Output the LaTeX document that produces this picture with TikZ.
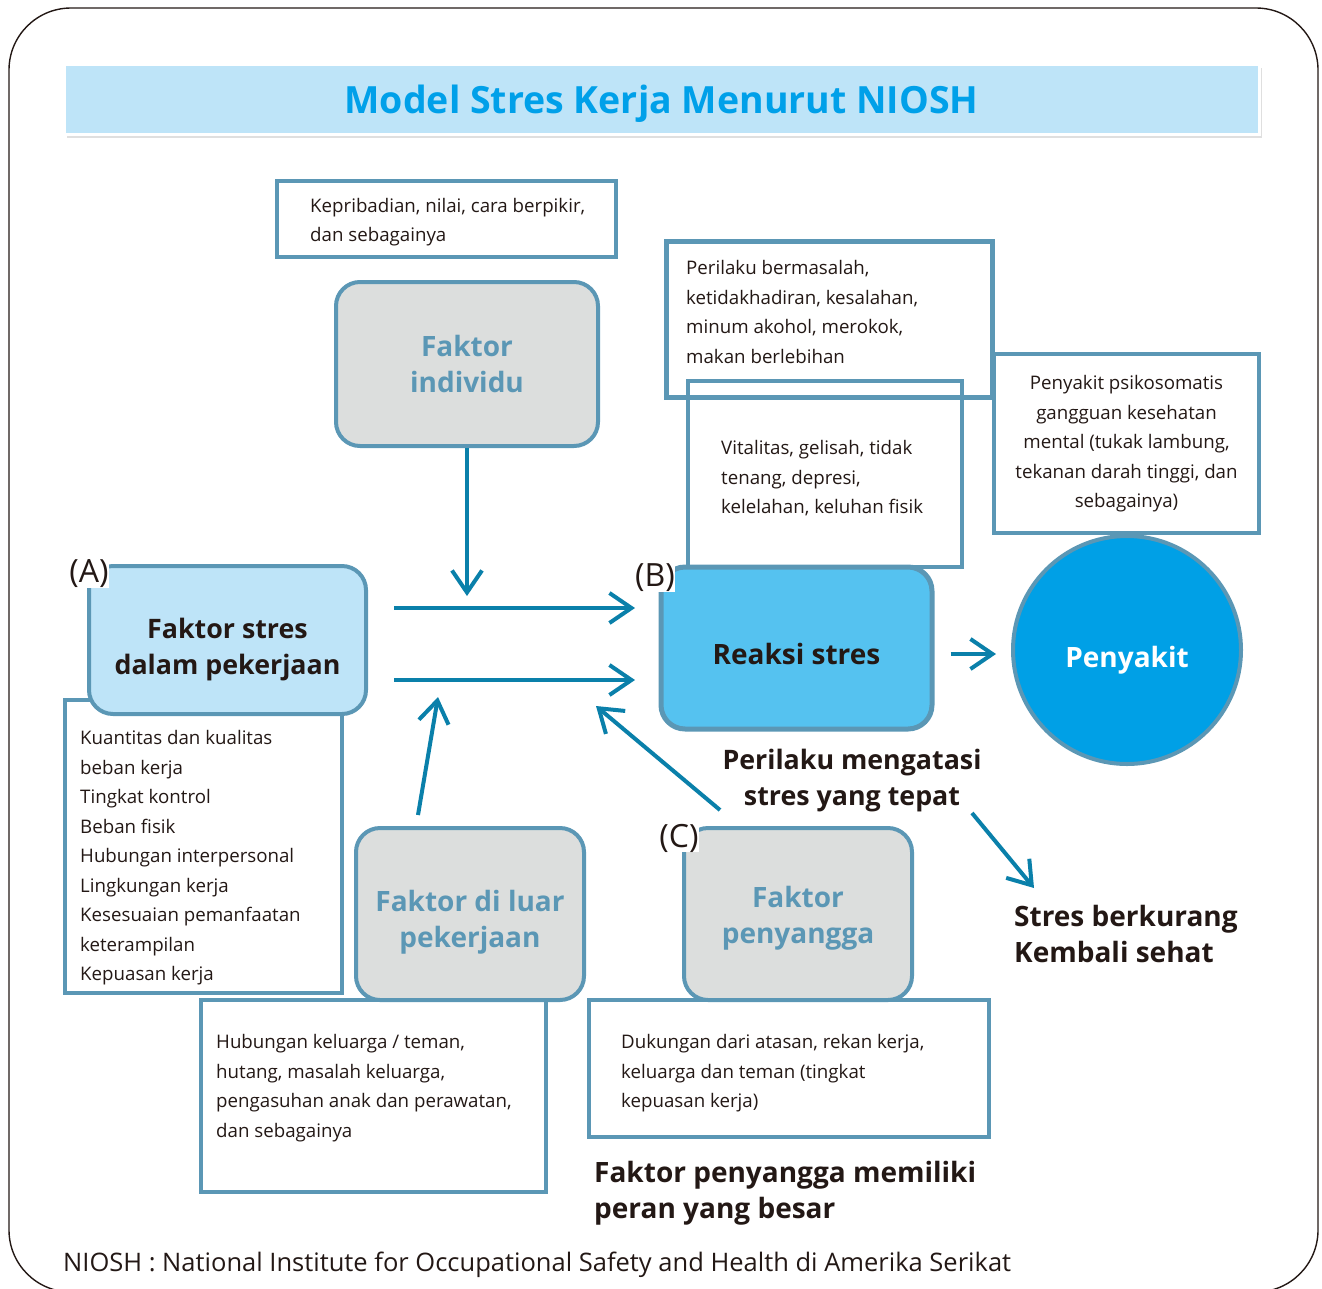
\documentclass[tikz,border=0pt]{standalone}
\usepackage{fontspec}
\setmainfont{Open Sans}
\usetikzlibrary{arrows.meta}
\usetikzlibrary{shadows}

\definecolor{steel}{HTML}{5B97B5}
\definecolor{flowblue}{HTML}{0A80AA}
\definecolor{paleblue}{HTML}{BEE4F8}
\definecolor{skyblue}{HTML}{55C2F0}
\definecolor{deepblue}{HTML}{00A0E6}
\definecolor{titleblue}{HTML}{00A0E9}
\definecolor{boxgray}{HTML}{DCDEDD}
\definecolor{ink}{HTML}{231815}

\tikzset{
  factor/.style={draw=steel, line width=4pt, rounded corners=24pt, fill=boxgray},
  factortext/.style={align=center, inner sep=0pt, text=steel, font=\fontsize{28}{36}\selectfont\bfseries},
  infobox/.style={draw=steel, line width=3.5pt, inner sep=0pt, outer sep=0pt},
  infotext/.style={align=left, inner sep=0pt, text=ink, font=\fontsize{18.7}{29.5}\selectfont},
  boldtext/.style={inner sep=0pt, text=ink, font=\fontsize{28}{36}\selectfont\bfseries},
  letter/.style={inner sep=0pt, fill=white, text=ink, font=\fontsize{32}{32}\selectfont},
  flow/.style={draw=flowblue, line width=4pt, -{Straight Barb[length=22pt,width=30pt]}},
}

\begin{document}
\begin{tikzpicture}[x=1pt, y=-1pt]
	% fix page
	\useasboundingbox (0,0) rectangle (1322,1288);
	% draw frame
	\draw[line width=1.4pt, draw=ink, rounded corners=62pt] (9,8) rectangle (1318,1292);
	% draw title
	\node[fill=paleblue, draw=white, line width=3pt, minimum width=1195, minimum height=70,
		drop shadow={shadow xshift=3pt, shadow yshift=-4pt, opacity=.25}] (title) at (661.5,99) {};
	\node[inner sep=0pt, text=titleblue, font=\fontsize{37.5}{40}\selectfont\bfseries] (titletext) at ([shift={(0,5)}]title.center) {Model Stres Kerja Menurut NIOSH};
	% draw info boxes
	\node[infobox, minimum width=339, minimum height=76, anchor=north west] (pribadi) at (277,181) {};
	\node[infotext, anchor=north west] (pribaditext) at ([shift={(33,17)}]pribadi.north west) {Kepribadian, nilai, cara berpikir,\\dan sebagainya};
	\node[infobox, line width=5pt, minimum width=326, minimum height=156, anchor=north west] (perilaku) at (666,241) {};
	\node[infotext, anchor=north west] (perilakutext) at ([shift={(20,19.5)}]perilaku.north west) {Perilaku bermasalah,\\ketidakhadiran, kesalahan,\\minum akohol, merokok,\\makan berlebihan};
	\node[infobox, line width=4pt, minimum width=274, minimum height=186, anchor=north west] (vitalitas) at (688,381) {};
	\node[infotext, anchor=north west] (vitalitastext) at ([shift={(33,59.5)}]vitalitas.north west) {Vitalitas, gelisah, tidak\\tenang, depresi,\\kelelahan, keluhan fisik};
	\node[infobox, minimum width=265, minimum height=179, anchor=north west] (psiko) at (994,354) {};
	\node[infotext, align=center, anchor=north] (psikotext) at ([shift={(0,21.5)}]psiko.north) {Penyakit psikosomatis\\gangguan kesehatan\\mental (tukak lambung,\\tekanan darah tinggi, dan\\sebagainya)};
	\node[infobox, minimum width=277, minimum height=293, anchor=north west] (daftar) at (65,700) {};
	\node[infotext, anchor=north west] (daftartext) at ([shift={(15,30.5)}]daftar.north west) {Kuantitas dan kualitas\\beban kerja\\Tingkat kontrol\\Beban fisik\\Hubungan interpersonal\\Lingkungan kerja\\Kesesuaian pemanfaatan\\keterampilan\\Kepuasan kerja};
	\node[infobox, minimum width=345, minimum height=192, anchor=north west] (luarinfo) at (201,1000) {};
	\node[infotext, anchor=north west] (luarinfotext) at ([shift={(15,34.5)}]luarinfo.north west) {Hubungan keluarga / teman,\\hutang, masalah keluarga,\\pengasuhan anak dan perawatan,\\dan sebagainya};
	\node[infobox, minimum width=400, minimum height=137, anchor=north west] (penyanggainfo) at (589,1000) {};
	\node[infotext, anchor=north west] (penyanggainfotext) at ([shift={(32,34.5)}]penyanggainfo.north west) {Dukungan dari atasan, rekan kerja,\\keluarga dan teman (tingkat\\kepuasan kerja)};
	% draw factors
	\node[factor, minimum width=262, minimum height=164] (individu) at (467,364) {};
	\node[factortext] (individutext) at (individu.center) {Faktor\\individu};
	\node[factor, fill=paleblue, minimum width=277, minimum height=148] (stres) at (227.5,640) {};
	\node[factortext, text=ink, font=\fontsize{26.8}{36}\selectfont\bfseries] (strestext) at ([shift={(0,10)}]stres.center) {Faktor stres\\dalam pekerjaan};
	\node[factor, minimum width=228, minimum height=172] (luar) at (470,914) {};
	\node[factortext] (luartext) at ([shift={(0,8)}]luar.center) {Faktor di luar\\pekerjaan};
	\node[factor, minimum width=228, minimum height=172] (penyangga) at (798,914) {};
	\node[factortext] (penyanggatext) at ([shift={(0,4)}]penyangga.center) {Faktor\\penyangga};
	\node[factor, fill=skyblue, line width=5pt, minimum width=271, minimum height=162] (reaksi) at (796.5,648) {};
	\node[factortext, text=ink] (reaksitext) at ([shift={(0,6)}]reaksi.center) {Reaksi stres};
	\node[circle, draw=steel, line width=4pt, fill=deepblue, minimum size=228] (penyakit) at (1127,650) {};
	\node[factortext, text=white] (penyakittext) at ([shift={(0,10)}]penyakit.center) {Penyakit};
	% draw letters
	\node[letter] (labelA) at (89,574) {(A)};
	\node[letter] (labelB) at (655,578) {(B)};
	\node[letter] (labelC) at (679,838) {(C)};
	% draw arrows
	\coordinate (individutip) at (467,596);
	\coordinate (upperstart) at (394,608);
	\coordinate (uppertip) at (635,608);
	\coordinate (lowerstart) at (394,680);
	\coordinate (lowertip) at (635,680);
	\coordinate (luarstart) at (418,815);
	\coordinate (luartip) at (438,697);
	\coordinate (penyanggastart) at (720,810);
	\coordinate (penyanggatip) at (596,706);
	\coordinate (copingstart) at (972,813);
	\coordinate (copingtip) at (1034,888);
	\draw[flow] (individu) -- (individutip);
	\draw[flow] (upperstart) -- (uppertip);
	\draw[flow] (lowerstart) -- (lowertip);
	\draw[flow] (luarstart) -- (luartip);
	\draw[flow] (penyanggastart) -- (penyanggatip);
	\draw[flow] ([shift={(16,6)}]reaksi.east) -- ([shift={(-15,4)}]penyakit.west);
	\draw[flow] (copingstart) -- (copingtip);
	% draw notes
	\node[boldtext, align=center, anchor=north, font=\fontsize{26.8}{36}\selectfont\bfseries] (coping) at (852,749) {Perilaku mengatasi\\stres yang tepat};
	\node[boldtext, align=left, anchor=north west] (pulih) at (1014,905) {Stres berkurang\\Kembali sehat};
	\node[boldtext, align=left, anchor=north west] (peran) at (594,1161) {Faktor penyangga memiliki\\peran yang besar};
	\node[inner sep=0pt, anchor=base west, text=ink, font=\fontsize{25.5}{28}\selectfont] (catatan) at (63,1271) {NIOSH : National Institute for Occupational Safety and Health di Amerika Serikat};
\end{tikzpicture}
\end{document}
